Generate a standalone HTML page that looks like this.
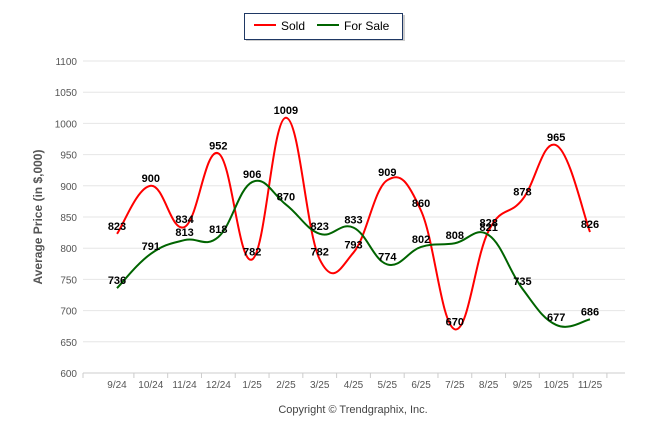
<!DOCTYPE html>
<html><head><meta charset="utf-8"><style>
body{margin:0;background:#fff;}
svg{font-family:"Liberation Sans",Arial,sans-serif;display:block}
</style></head><body>
<svg id="c" width="646" height="434" viewBox="0 0 646 434"></svg>
<script>
const categories=["9/24","10/24","11/24","12/24","1/25","2/25","3/25","4/25","5/25","6/25","7/25","8/25","9/25","10/25","11/25"];
const soldValues=[823,900,834,952,782,1009,782,793,909,860,670,828,878,965,826];
const forSaleValues=[736,791,813,818,906,870,823,833,774,802,808,821,735,677,686];
const yTicks=[600,650,700,750,800,850,900,950,1000,1050,1100];
const NS="http://www.w3.org/2000/svg";
const svg=document.getElementById('c');
const X0=83,X1=625,Y0=373,Y1=61;
const xs=i=>117+i*(590-117)/(categories.length-1);
const ys=v=>Y0-(v-600)/(1100-600)*(Y0-Y1);
function el(t,a,p){const e=document.createElementNS(NS,t);for(const k in a)e.setAttribute(k,a[k]);(p||svg).appendChild(e);return e;}
yTicks.forEach(v=>{
 const g=el('line',{x1:X0,x2:X1,y1:ys(v),y2:ys(v),stroke:'#e6e6e6','stroke-width':1});
 
 
 const t=el('text',{x:77,y:ys(v)+4,'text-anchor':'end','font-size':10,fill:'#555'});
 t.textContent=v;
 
 
});
const ax=el('line',{x1:X0,x2:X1,y1:Y0,y2:Y0,stroke:'#ccc'});


el('line',{x1:X0,x2:X0,y1:Y0,y2:Y0+5,stroke:'#ccc'});
categories.forEach((c,i)=>{
 el('line',{x1:xs(i)+16.9,x2:xs(i)+16.9,y1:Y0,y2:Y0+5,stroke:'#ccc'});
 const t=el('text',{x:xs(i),y:388,'text-anchor':'middle','font-size':10,fill:'#555'});
 t.textContent=c;
 
 
});
const yt=el('text',{x:0,y:0,transform:'translate(42,217) rotate(-90)','text-anchor':'middle','font-size':12,'font-weight':'bold',fill:'#555'});
yt.textContent='Average Price (in $,000)';


const cp=el('text',{x:353,y:413,'text-anchor':'middle','font-size':11,fill:'#444'});
cp.textContent='Copyright © Trendgraphix, Inc.';


function path(vals){
 const p=vals.map((v,i)=>[xs(i),ys(v)]);
 let d='M'+p[0][0]+','+p[0][1];
 for(let i=0;i<p.length-1;i++){
  const a=p[i-1]||p[i],b=p[i],c=p[i+1],e=p[i+2]||p[i+1];
  const k=1/5;
  d+=` C${b[0]+(c[0]-a[0])*k},${b[1]+(c[1]-a[1])*k} ${c[0]-(e[0]-b[0])*k},${c[1]-(e[1]-b[1])*k} ${c[0]},${c[1]}`;
 }
 return d;
}
const l1=el('path',{d:path(soldValues),fill:'none',stroke:'#ff0000','stroke-width':2});


const l2=el('path',{d:path(forSaleValues),fill:'none',stroke:'#006400','stroke-width':2});


[soldValues,forSaleValues].forEach((vals,s)=>vals.forEach((v,i)=>{
 const t=el('text',{x:xs(i),y:ys(v)-4,'text-anchor':'middle','font-size':11,'font-weight':'bold',fill:'#000'});
 t.textContent=v;
 
 
}));
const lg=el('g',{});


el('rect',{x:246,y:15,width:159,height:26,fill:'#999',opacity:0.5},lg);
el('rect',{x:244.5,y:13.5,width:158,height:26,fill:'#fff',stroke:'#1f3864'},lg);
el('line',{x1:254,x2:276,y1:25,y2:25,stroke:'#ff0000','stroke-width':2},lg);
const s1=el('text',{x:281,y:30,'font-size':12,fill:'#000'},lg);s1.textContent='Sold';


el('line',{x1:317,x2:339,y1:25,y2:25,stroke:'#006400','stroke-width':2},lg);
const s2=el('text',{x:344,y:30,'font-size':12,fill:'#000'},lg);s2.textContent='For Sale';


</script>
</body></html>
